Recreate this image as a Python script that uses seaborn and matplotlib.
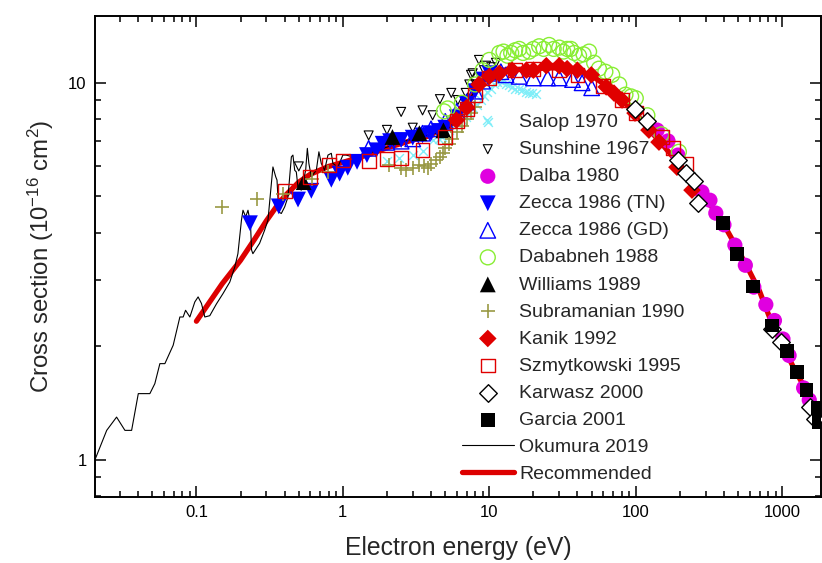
import numpy as np
import pandas as pd
import matplotlib
matplotlib.use("Agg")
import matplotlib.pyplot as plt
import seaborn as sns
from matplotlib.ticker import LogLocator, NullFormatter, FuncFormatter

sns.set_style("ticks")
plt.rcParams['font.family'] = ['Liberation Sans', 'DejaVu Sans']
plt.rcParams['mathtext.fontset'] = 'custom'
plt.rcParams['mathtext.rm'] = 'Liberation Sans'
plt.rcParams['mathtext.it'] = 'Liberation Sans:italic'
plt.rcParams['mathtext.bf'] = 'Liberation Sans:bold'

# ---------------- data ----------------
salop_e = [2.0, 2.43, 3.0, 3.5, 4.1, 4.5, 4.78, 5.3, 6.0, 6.5, 6.9, 7.3, 7.7, 8.2, 8.8, 9.2,
           9.7, 10.2, 10.8, 11.2, 11.7, 12.3, 13.0, 13.6, 14.3, 15.0, 16.0, 16.8, 17.8,
           18.7, 19.7, 20.8, 9.6]
salop_s = [6.2, 6.3, 6.45, 6.6, 7.05, 7.1, 7.2, 7.5, 7.8, 7.95, 8.1, 8.3, 8.55, 8.75, 9.0, 9.2,
           9.45, 9.65, 9.9, 10.05, 10.2, 10.05, 9.95, 9.85, 9.75, 9.65, 9.6, 9.55, 9.45,
           9.4, 9.37, 9.35, 7.95]

sunshine_e = [0.5, 1.5, 2.0, 2.5, 3.0, 3.5, 4.1, 4.6, 5.5, 6.1, 6.9, 7.3, 7.5, 7.7, 8.1, 8.5,
              9.2, 9.5, 10.3, 11.1]
sunshine_s = [6.0, 7.25, 7.5, 8.37, 7.6, 8.45, 8.2, 9.05, 9.4, 9.0, 9.4, 9.9, 10.5, 10.6, 9.9,
              11.5, 10.8, 11.1, 11.0, 11.3]

dalba_e = [140, 166, 194, 283, 321, 352, 400, 475, 560, 640, 773, 885, 1012, 1114, 1400, 1530]
dalba_s = [7.49, 7.01, 6.43, 5.13, 4.88, 4.51, 4.2, 3.71, 3.28, 2.87, 2.58, 2.34, 2.09, 1.89,
           1.55, 1.44]

zeccatn_e = [0.232, 0.365, 0.494, 0.609, 0.834, 0.95, 1.08, 1.25, 1.46, 1.69, 1.87, 2.1, 2.5,
             3.0, 3.5, 4.0, 4.5, 5.0, 6.0, 7.0, 8.0, 9.0, 10.0]
zeccatn_s = [4.24, 4.7, 4.9, 5.17, 5.53, 5.74, 5.95, 6.17, 6.43, 6.62, 6.89, 7.0, 7.05, 7.15,
             7.25, 7.35, 7.45, 7.6, 8.1, 8.8, 9.5, 10.2, 10.6]

zeccagd_e = [1.5, 2.0, 2.5, 3.0, 3.5, 4.0, 5.0, 6.0, 7.0, 8.0, 9.0, 10, 12, 13, 16, 20, 25, 30,
             37, 43, 50]
zeccagd_s = [6.7, 6.95, 7.0, 7.1, 7.35, 7.55, 7.9, 8.4, 8.9, 9.5, 10.1, 10.6, 10.7, 10.5, 10.4,
             10.3, 10.3, 10.3, 10.2, 10.0, 9.7]

dababneh_e = [4.9, 5.2, 6.5, 8.0, 9.0, 10.0, 11.7, 12.5, 13.3, 14.1, 15, 16, 17, 18.7, 20, 21.9,
              23.5, 25.6, 27.5, 30, 32, 34, 36, 38, 41, 44, 48, 52, 56, 62, 69, 77, 85, 93,
              100, 120, 150, 197]
dababneh_s = [8.4, 8.55, 8.85, 9.9, 10.8, 11.5, 12.0, 12.1, 11.8, 12.0, 12.2, 12.3, 12.0, 12.1,
              12.3, 12.5, 12.3, 12.6, 12.3, 12.4, 12.1, 12.3, 12.3, 12.0, 11.8, 11.9, 12.1,
              11.3, 10.9, 10.7, 10.5, 9.9, 9.3, 9.2, 9.1, 8.2, 7.3, 6.56]

williams_e = [0.54, 2.18, 3.33, 4.86]
williams_s = [5.45, 7.18, 7.35, 7.48]

subra_e = [0.15, 0.26, 0.39, 0.62, 0.79, 2.08, 2.5, 2.71, 3.0, 3.33, 3.6, 3.8, 4.0, 4.33, 4.6,
           4.8, 5.0, 5.3, 5.6, 6.0, 6.5, 7.0, 7.5, 8.0]
subra_s = [4.67, 4.93, 5.08, 5.56, 5.79, 6.04, 5.95, 5.87, 5.93, 6.04, 6.0, 5.93, 6.1, 6.23,
           6.35, 6.5, 6.7, 6.9, 7.1, 7.4, 7.7, 8.0, 8.3, 8.6]

kanik_e = [5.96, 7.0, 8.5, 10, 11.7, 14.3, 17.9, 20, 24.5, 30, 34, 39.9, 49.7, 62.8, 71, 80.6,
           98.8, 123, 144, 191, 242]
kanik_s = [7.96, 8.6, 9.9, 10.4, 10.6, 10.8, 10.8, 10.8, 11.1, 11.1, 10.9, 10.8, 10.5, 9.75,
           9.39, 9.0, 8.31, 7.49, 6.96, 5.97, 5.19]

szmyt_e = [0.4, 0.6, 0.8, 1.0, 1.5, 2.0, 2.5, 3.5, 5.0, 6.0, 7.0, 8.0, 10, 15, 20, 30, 40, 60,
           80, 100, 150, 180, 220]
szmyt_s = [5.17, 5.63, 6.04, 6.22, 6.2, 6.27, 6.31, 6.62, 7.2, 7.9, 8.5, 9.3, 10.3, 10.8, 10.9,
           10.8, 10.5, 9.8, 9.0, 8.3, 7.2, 6.7, 6.1]

karwasz_e = [99, 119, 194, 220, 250, 266, 851, 981, 1541, 1667]
karwasz_s = [8.51, 7.91, 6.24, 5.76, 5.48, 4.80, 2.22, 2.05, 1.38, 1.28]

garcia_e = [394, 490, 631, 852, 1079, 1264, 1466, 1740, 1790]
garcia_s = [4.24, 3.52, 2.88, 2.27, 1.94, 1.71, 1.53, 1.37, 1.26]

okumura_e = [0.0203, 0.0244, 0.0285, 0.0325, 0.0361, 0.0401, 0.0481, 0.052, 0.0563, 0.0609,
             0.0694, 0.0771, 0.0812, 0.0843, 0.0902, 0.0975, 0.1027, 0.1083, 0.1141, 0.1234,
             0.137, 0.152, 0.169, 0.183, 0.192, 0.203, 0.208, 0.217, 0.225, 0.234, 0.238,
             0.243, 0.270, 0.292, 0.308, 0.325, 0.333, 0.348, 0.355, 0.365, 0.380, 0.401,
             0.422, 0.445, 0.456, 0.469, 0.481, 0.493, 0.520, 0.557, 0.572, 0.586, 0.609,
             0.659, 0.686, 0.712, 0.750, 0.791, 0.834, 0.855, 0.925, 1.0, 1.05, 1.17, 1.3,
             1.5, 2.0, 2.5, 3.0, 4.0, 5.0, 6.0, 7.0, 8.0, 9.0, 10, 11, 12, 13, 14, 15, 16,
             17, 18, 19, 20]
okumura_s = [1.0, 1.196, 1.297, 1.196, 1.196, 1.497, 1.497, 1.591, 1.798, 1.798, 2.012, 2.391,
             2.391, 2.491, 2.391, 2.621, 2.703, 2.596, 2.391, 2.41, 2.59, 2.76, 2.96, 3.25,
             3.52, 4.32, 4.59, 4.41, 4.59, 4.23, 3.60, 3.52, 3.75, 4.06, 4.32, 5.41, 5.98,
             5.63, 5.52, 4.54, 4.50, 4.69, 4.98, 6.36, 6.43, 5.86, 5.80, 5.30, 5.19, 5.86,
             6.70, 6.11, 5.63, 5.86, 6.56, 6.11, 5.86, 6.43, 6.50, 6.11, 5.98, 6.43, 6.43,
             6.36, 6.35, 6.5, 6.75, 6.95, 7.1, 7.3, 7.45, 7.95, 8.7, 9.6, 10.3, 10.6, 10.8,
             10.9, 10.7, 10.8, 10.7, 10.9, 10.6, 10.8, 10.6, 10.7]

rec_e = [0.1, 0.15, 0.2, 0.25, 0.3, 0.35, 0.4, 0.5, 0.6, 0.8, 1, 1.5, 2, 3, 4, 5, 6, 7, 8, 9,
         10, 11, 12, 15, 20, 25, 30, 40, 50, 60, 70, 80, 100, 120, 150, 200, 250, 300, 400,
         500, 600, 700, 850, 1000, 1200, 1500, 1800, 2000]
rec_s = [2.33, 2.93, 3.38, 3.85, 4.3, 4.68, 5.0, 5.45, 5.72, 6.0, 6.15, 6.45, 6.72, 7.05, 7.25,
         7.45, 7.95, 8.7, 9.5, 10.1, 10.45, 10.7, 10.8, 10.85, 10.9, 10.95, 10.95, 10.8, 10.45,
         9.95, 9.45, 9.0, 8.3, 7.6, 6.9, 6.05, 5.45, 4.95, 4.2, 3.6, 3.15, 2.8, 2.3, 2.02,
         1.75, 1.5, 1.3, 1.2]

x_ticks = [0.1, 1, 10, 100, 1000]
y_ticks = [1, 10]

# ---------------- figure ----------------
fig = plt.figure(figsize=(8.22, 5.63), dpi=100)
ax = fig.add_axes([95 / 822, 1 - 497 / 563, (821 - 95) / 822, (497 - 16) / 563])
ax.set_xscale('log')
ax.set_yscale('log')

sns.lineplot(x=rec_e, y=rec_s, color='#dd0000', lw=3.8, sort=False, estimator=None,
             ax=ax, label='Recommended', zorder=2)
sns.lineplot(x=okumura_e, y=okumura_s, color='black', lw=0.8, sort=False, estimator=None,
             ax=ax, label='Okumura 2019', zorder=3)

series = [
    ('Salop 1970', salop_e, salop_s, dict(marker='x', s=40, color='#80eef8', linewidth=1.0)),
    ('Sunshine 1967', sunshine_e, sunshine_s, dict(marker='v', s=42, color='black', facecolors='none', edgecolor='black', linewidth=0.8)),
    ('Dalba 1980', dalba_e, dalba_s, dict(marker='o', s=120, color='#e000e0', edgecolor='none', linewidth=0)),
    ('Zecca 1986 (TN)', zeccatn_e, zeccatn_s, dict(marker='v', s=130, color='#0000ff', edgecolor='none', linewidth=0)),
    ('Zecca 1986 (GD)', zeccagd_e, zeccagd_s, dict(marker='^', s=125, color='#0000ff', facecolors='none', edgecolor='#0000ff', linewidth=1.0)),
    ('Dababneh 1988', dababneh_e, dababneh_s, dict(marker='o', s=115, color='#88ee33', facecolors='none', edgecolor='#88ee33', linewidth=1.0)),
    ('Williams 1989', williams_e, williams_s, dict(marker='^', s=130, color='black', edgecolor='none', linewidth=0)),
    ('Subramanian 1990', subra_e, subra_s, dict(marker='+', s=100, color='#999944', linewidth=1.2)),
    ('Kanik 1992', kanik_e, kanik_s, dict(marker='D', s=80, color='#e00000', edgecolor='none', linewidth=0)),
    ('Szmytkowski 1995', szmyt_e, szmyt_s, dict(marker='s', s=100, color='#e00000', facecolors='none', edgecolor='#e00000', linewidth=1.0)),
    ('Karwasz 2000', karwasz_e, karwasz_s, dict(marker='D', s=80, color='black', facecolors='white', edgecolor='black', linewidth=1.0)),
    ('Garcia 2001', garcia_e, garcia_s, dict(marker='s', s=100, color='black', edgecolor='none', linewidth=0)),
]

for i, (lab, e, s, kw) in enumerate(series):
    kw = dict(kw)
    size = kw.pop('s')
    sns.scatterplot(x=e, y=s, ax=ax, label=lab, s=size, zorder=4 + i, **kw)

ax.set_xlim(0.0203, 1840)
ax.set_ylim(0.796, 15.04)

ax.xaxis.set_major_locator(LogLocator(base=10, numticks=20))
ax.xaxis.set_minor_locator(LogLocator(base=10, subs=np.arange(2, 10), numticks=20))
ax.yaxis.set_major_locator(LogLocator(base=10, numticks=20))
ax.yaxis.set_minor_locator(LogLocator(base=10, subs=np.arange(2, 10), numticks=20))
fmt = FuncFormatter(lambda v, p: ('%g' % v) if (v in x_ticks or v in y_ticks) else '')
ax.xaxis.set_major_formatter(fmt)
ax.yaxis.set_major_formatter(fmt)
ax.xaxis.set_minor_formatter(NullFormatter())
ax.yaxis.set_minor_formatter(NullFormatter())

ax.tick_params(which='both', direction='in', top=True, right=True, width=1.1, colors='black')
ax.tick_params(which='major', length=8, labelsize=12, pad=6)
ax.tick_params(which='minor', length=4.5)
for sp in ax.spines.values():
    sp.set_linewidth(1.4)
    sp.set_color('black')

ax.set_xlabel('Electron energy (eV)', fontsize=17.8, labelpad=11)
ax.set_ylabel(r'Cross section (10$^{-16}$ cm$^{2}$)', fontsize=17.3, labelpad=9)

handles, labels = ax.get_legend_handles_labels()
order = [lab for lab, *_ in series] + ['Okumura 2019', 'Recommended']
hmap = dict(zip(labels, handles))
ax.legend([hmap[l] for l in order], order, loc='upper left', bbox_to_anchor=(0.505, 0.797),
          frameon=False, fontsize=14, handlelength=2.69, handletextpad=0.28,
          labelspacing=0.485, borderaxespad=0, borderpad=0)

fig.savefig('out.png', dpi=100)
